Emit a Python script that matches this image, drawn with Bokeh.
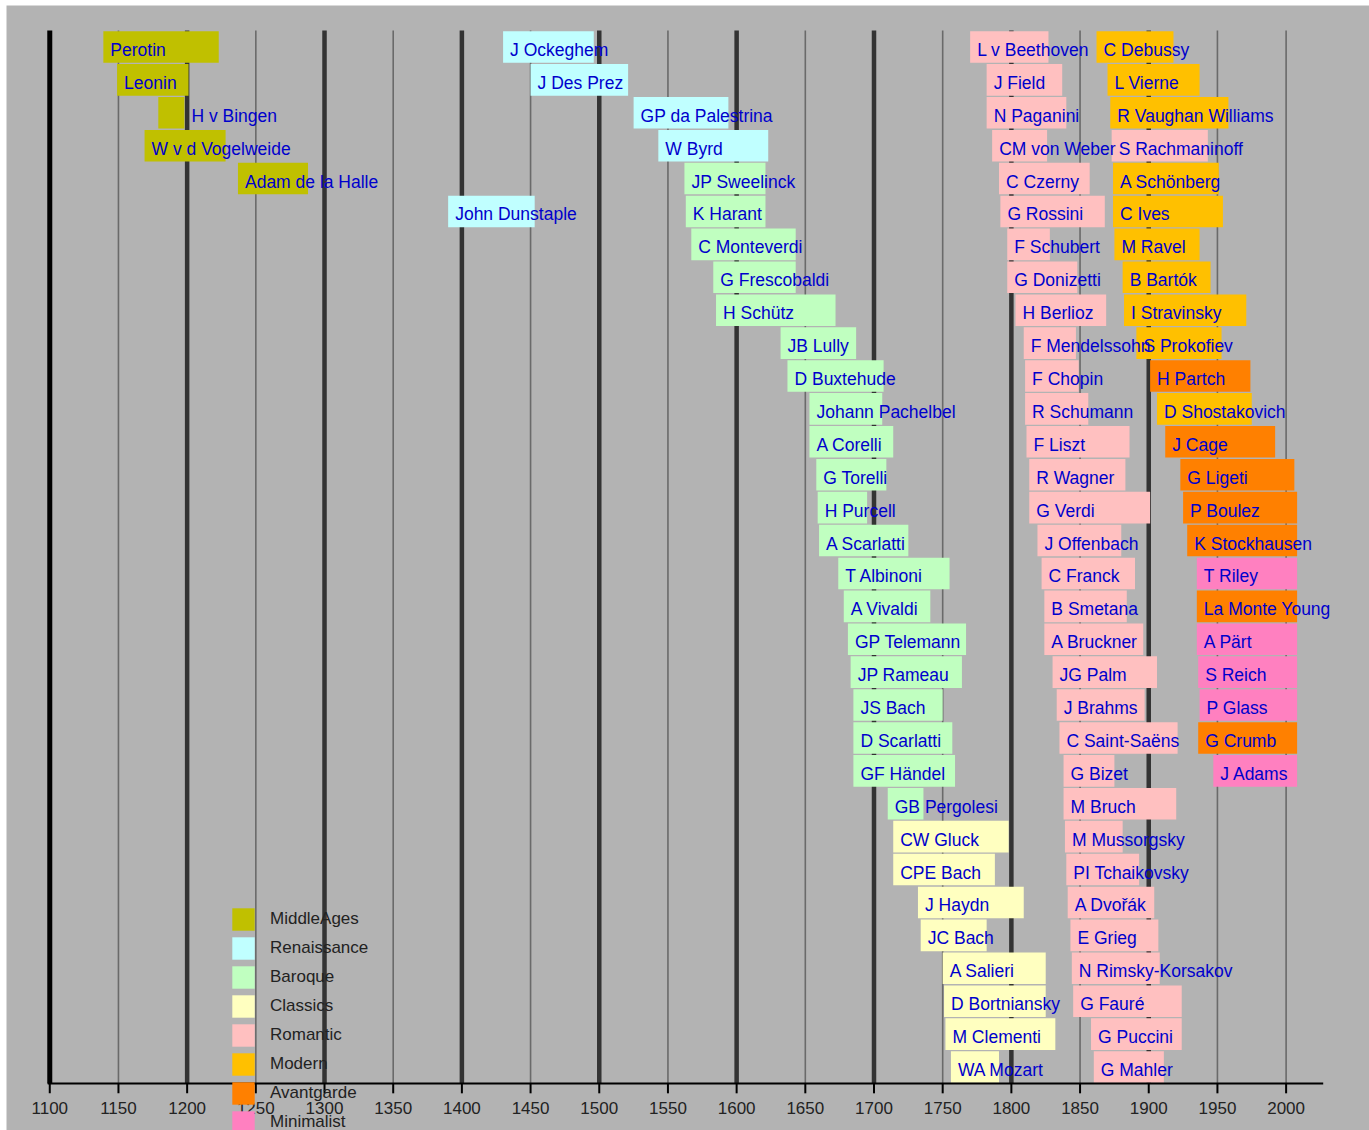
import pandas as pd
from bokeh.plotting import figure
from bokeh.models import Range1d, ColumnDataSource, Legend, LegendItem
from bokeh.core.properties import value
from bokeh.embed import file_html
from bokeh.resources import INLINE

# ---------------- data ----------------
eras = ["MiddleAges", "Renaissance", "Baroque", "Classics",
        "Romantic", "Modern", "Avantgarde", "Minimalist"]
era_colors = ["#c0c000", "#c0ffff", "#c0ffc0", "#ffffc0",
              "#ffc0c0", "#ffc000", "#ff8000", "#ff80c0"]

names = [
    # Middle Ages
    "Perotin", "Leonin", "H v Bingen", "W v d Vogelweide", "Adam de la Halle",
    # Renaissance
    "J Ockeghem", "J Des Prez", "GP da Palestrina", "W Byrd", "John Dunstaple",
    # Baroque
    "JP Sweelinck", "K Harant", "C Monteverdi", "G Frescobaldi", "H Schütz",
    "JB Lully", "D Buxtehude", "Johann Pachelbel", "A Corelli", "G Torelli",
    "H Purcell", "A Scarlatti", "T Albinoni", "A Vivaldi", "GP Telemann",
    "JP Rameau", "JS Bach", "D Scarlatti", "GF Händel", "GB Pergolesi",
    # Classics
    "CW Gluck", "CPE Bach", "J Haydn", "JC Bach", "A Salieri",
    "D Bortniansky", "M Clementi", "WA Mozart",
    # Romantic
    "L v Beethoven", "J Field", "N Paganini", "CM von Weber", "C Czerny",
    "G Rossini", "F Schubert", "G Donizetti", "H Berlioz", "F Mendelssohn",
    "F Chopin", "R Schumann", "F Liszt", "R Wagner", "G Verdi",
    "J Offenbach", "C Franck", "B Smetana", "A Bruckner", "JG Palm",
    "J Brahms", "C Saint-Saëns", "G Bizet", "M Bruch", "M Mussorgsky",
    "PI Tchaikovsky", "A Dvořák", "E Grieg", "N Rimsky-Korsakov", "G Fauré",
    "G Puccini", "G Mahler", "S Rachmaninoff",
    # Modern
    "C Debussy", "L Vierne", "R Vaughan Williams", "A Schönberg", "C Ives",
    "M Ravel", "B Bartók", "I Stravinsky", "S Prokofiev", "D Shostakovich",
    # Avantgarde
    "H Partch", "J Cage", "G Ligeti", "P Boulez", "K Stockhausen",
    "La Monte Young", "G Crumb",
    # Minimalist
    "T Riley", "A Pärt", "S Reich", "P Glass", "J Adams",
]

born = [
    1139, 1149, 1198, 1169, 1237,
    1430, 1450, 1525, 1543, 1390,
    1562, 1563, 1567, 1583, 1585,
    1632, 1637, 1653, 1653, 1658,
    1659, 1660, 1674, 1678, 1681,
    1683, 1685, 1685, 1685, 1710,
    1714, 1714, 1732, 1734, 1750,
    1751, 1752, 1756,
    1770, 1782, 1782, 1786, 1791,
    1792, 1797, 1797, 1803, 1809,
    1810, 1810, 1811, 1813, 1813,
    1819, 1822, 1824, 1824, 1830,
    1833, 1835, 1838, 1838, 1839,
    1840, 1841, 1843, 1844, 1845,
    1858, 1860, 1873,
    1862, 1870, 1872, 1874, 1874,
    1875, 1881, 1882, 1891, 1906,
    1901, 1912, 1923, 1925, 1928,
    1935, 1936,
    1935, 1935, 1936, 1937, 1947,
]

died = [
    1223, 1201, 1179, 1228, 1288,
    1496, 1521, 1594, 1623, 1453,
    1621, 1621, 1643, 1643, 1672,
    1687, 1707, 1706, 1714, 1709,
    1695, 1725, 1755, 1741, 1767,
    1764, 1750, 1757, 1759, 1736,
    1798, 1788, 1809, 1782, 1825,
    1825, 1832, 1791,
    1827, 1837, 1840, 1826, 1857,
    1868, 1828, 1848, 1869, 1847,
    1849, 1856, 1886, 1883, 1901,
    1880, 1890, 1884, 1896, 1906,
    1897, 1921, 1875, 1920, 1881,
    1893, 1904, 1907, 1908, 1924,
    1924, 1911, 1943,
    1918, 1937, 1958, 1951, 1954,
    1937, 1945, 1971, 1953, 1975,
    1974, 1992, 2006, 2008, 2008,
    2008, 2008,
    2008, 2008, 2008, 2008, 2008,
]

era = (["MiddleAges"] * 5 + ["Renaissance"] * 5 + ["Baroque"] * 20 +
       ["Classics"] * 8 + ["Romantic"] * 33 + ["Modern"] * 10 +
       ["Avantgarde"] * 7 + ["Minimalist"] * 5)

rows = [
    0, 1, 2, 3, 4,
    0, 1, 2, 3, 5,
    4, 5, 6, 7, 8, 9, 10, 11, 12, 13, 14, 15, 16, 17, 18, 19, 20, 21, 22, 23,
    24, 25, 26, 27, 28, 29, 30, 31,
    0, 1, 2, 3, 4, 5, 6, 7, 8, 9, 10, 11, 12, 13, 14, 15, 16, 17, 18, 19,
    20, 21, 22, 23, 24, 25, 26, 27, 28, 29, 30, 31, 3,
    0, 1, 2, 4, 5, 6, 7, 8, 9, 11,
    10, 12, 13, 14, 15, 17, 21,
    16, 18, 19, 20, 22,
]

tick_years = [1100, 1150, 1200, 1250, 1300, 1350, 1400, 1450, 1500, 1550,
              1600, 1650, 1700, 1750, 1800, 1850, 1900, 1950, 2000]
tick_labels = [str(t) for t in tick_years]
origin_line = [1100]
century_lines = [1200, 1300, 1400, 1500, 1600, 1700, 1800, 1900]
half_lines = [1150, 1250, 1350, 1450, 1550, 1650, 1750, 1850, 1950, 2000]

# ---------------- layout constants ----------------
N_ROWS = 32
AXIS_START, AXIS_END = 1098.5, 2027     # extent of the time axis line
TICK_LEN = 0.3                          # tick length (row units, ~10px)
GRAY = "#b3b3b3"
FONT = "Liberation Sans"

df = pd.DataFrame({"name": names, "born": born, "died": died,
                   "era": era, "row": rows})
df["yc"] = df["row"] + 0.5
df["lo"] = df[["born", "died"]].min(axis=1)
df["hi"] = df[["born", "died"]].max(axis=1)

p = figure(width=1363, height=1125,
           x_range=Range1d(1068.5, 2060.7), y_range=Range1d(33.43, -0.76),
           x_axis_type=None, y_axis_type=None,
           output_backend="svg", toolbar_location=None,
           min_border_left=0, min_border_right=0,
           min_border_top=0, min_border_bottom=0,
           background_fill_color=GRAY, border_fill_color=GRAY,
           outline_line_color=None)
p.margin = (5, 0, 0, 6)
p.xgrid.visible = False
p.ygrid.visible = False

# vertical time lines
p.segment(x0=half_lines, y0=[0] * len(half_lines), x1=half_lines,
          y1=[N_ROWS] * len(half_lines), line_color="#6a6a6a", line_width=1.6)
p.segment(x0=century_lines, y0=[0] * len(century_lines), x1=century_lines,
          y1=[N_ROWS] * len(century_lines), line_color="#333333", line_width=4.5)
p.segment(x0=origin_line, y0=[0], x1=origin_line, y1=[N_ROWS],
          line_color="#000000", line_width=5)

# bars
items = []
for e, c in zip(eras, era_colors):
    src = ColumnDataSource(df[df["era"] == e])
    r = p.hbar(y="yc", left="lo", right="hi", height=0.96, source=src,
               fill_color=c, line_color=None)
    items.append(LegendItem(label=e, renderers=[r]))

# composer names
p.text(x="born", y="yc", text="name", x_offset=7, y_offset=3,
       source=ColumnDataSource(df),
       text_baseline="middle", text_align="left",
       text_font=value(FONT), text_font_size="17.5px", text_color="#0000cc")

# time axis
p.segment(x0=[AXIS_START], y0=[N_ROWS], x1=[AXIS_END], y1=[N_ROWS],
          line_color="black", line_width=2)
p.segment(x0=tick_years, y0=[N_ROWS] * len(tick_years), x1=tick_years,
          y1=[N_ROWS + TICK_LEN] * len(tick_years),
          line_color="black", line_width=2)
p.text(x=tick_years, y=[N_ROWS] * len(tick_years), text=tick_labels,
       y_offset=25, text_align="center", text_baseline="middle",
       text_font=value(FONT), text_font_size="17px", text_color="#222222")

legend = Legend(items=items, location=(223, -6), orientation="vertical",
                glyph_width=28, glyph_height=28, label_height=28,
                label_width=10, spacing=1, padding=0, margin=0,
                label_standoff=13, label_text_font=FONT,
                label_text_font_size="17px", label_text_color="#222222",
                label_text_baseline="middle",
                border_line_color=None, background_fill_alpha=0)
p.add_layout(legend)

open("out.html", "w").write(file_html(p, INLINE))
